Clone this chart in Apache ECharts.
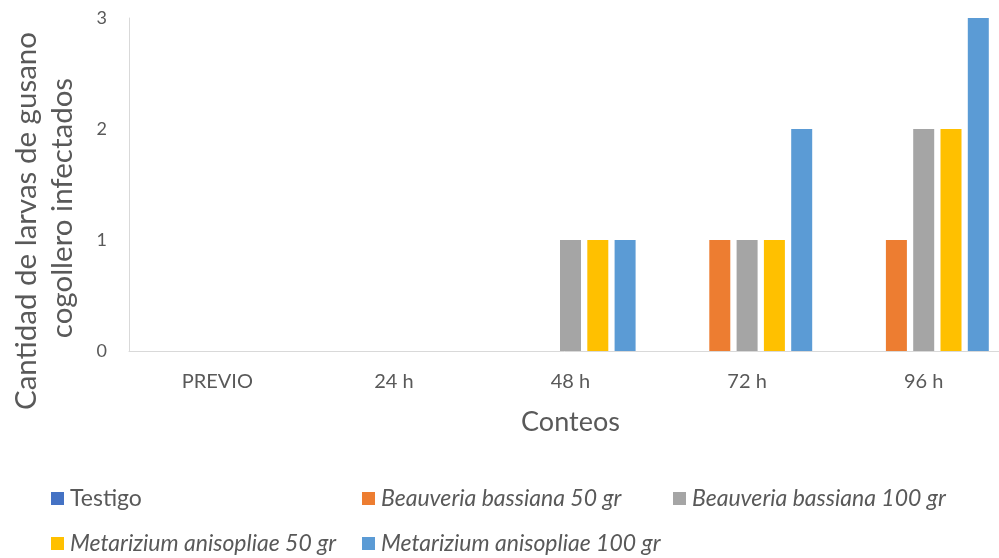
<!DOCTYPE html>
<html>
<head>
<meta charset="utf-8">
<script src="https://cdn.jsdelivr.net/npm/echarts@6/dist/echarts.min.js"></script>
<style>
  html, body { margin: 0; padding: 0; background: #ffffff; }
  #chart { width: 999px; height: 558px; }
</style>
</head>
<body>
<div id="chart"></div>
<script>
// Counting times
const categories = ['PREVIO', '24 h', '48 h', '72 h', '96 h'];

// Infected fall armyworm larvae per treatment
const testigo = [0, 0, 0, 0, 0];
const beauveria50 = [0, 0, 0, 1, 1];
const beauveria100 = [0, 0, 1, 1, 2];
const metarizium50 = [0, 0, 1, 1, 2];
const metarizium100 = [0, 0, 1, 2, 3];

const seriesNames = [
  'Testigo',
  'Beauveria bassiana 50 gr',
  'Beauveria bassiana 100 gr',
  'Metarizium anisopliae 50 gr',
  'Metarizium anisopliae 100 gr'
];
const seriesData = [testigo, beauveria50, beauveria100, metarizium50, metarizium100];
const colors = ['#4472C4', '#ED7D31', '#A5A5A5', '#FFC000', '#5B9BD5'];

const FONT = 'Lato';
const TEXT = '#595959';

const chart = echarts.init(document.getElementById('chart'), null, { renderer: 'canvas' });

function legendAt(name, left, top, italic) {
  return {
    data: [name],
    left: left,
    top: top,
    padding: 0,
    itemWidth: 13,
    itemHeight: 13,
    itemGap: 0,
    icon: 'rect',
    selectedMode: false,
    textStyle: { fontFamily: FONT, fontSize: 23, color: TEXT, fontStyle: italic ? 'italic' : 'normal', padding: [0, 0, 0, 1] }
  };
}

function titleLine(text, x, y) {
  return {
    type: 'text',
    x: x,
    y: y,
    rotation: Math.PI / 2,
    style: {
      text: text,
      fontFamily: FONT,
      fontSize: 29.5,
      fill: TEXT,
      align: 'center',
      verticalAlign: 'middle'
    }
  };
}

chart.setOption({
  animation: false,
  color: colors,
  grid: { left: 129, top: 18, width: 883, height: 333, containLabel: false, outerBoundsMode: 'none' },
  xAxis: {
    type: 'category',
    data: categories,
    axisLine: { lineStyle: { color: '#D9D9D9', width: 1 } },
    axisTick: { show: false },
    axisLabel: { fontFamily: FONT, fontSize: 20, color: TEXT, margin: 21 },
    name: 'Conteos',
    nameLocation: 'middle',
    nameGap: 58,
    nameTextStyle: { fontFamily: FONT, fontSize: 27, color: TEXT }
  },
  yAxis: {
    type: 'value',
    min: 0,
    max: 3,
    interval: 1,
    axisLine: { show: true, lineStyle: { color: '#D9D9D9', width: 1 } },
    axisTick: { show: false },
    splitLine: { show: false },
    axisLabel: { fontFamily: FONT, fontSize: 18, color: TEXT, margin: 22 }
  },
  legend: [
    legendAt(seriesNames[0], 51, 487, false),
    legendAt(seriesNames[1], 362, 487, true),
    legendAt(seriesNames[2], 673, 487, true),
    legendAt(seriesNames[3], 51, 532, true),
    legendAt(seriesNames[4], 362, 532, true)
  ],
  graphic: [
    titleLine('Cantidad de larvas de gusano', 26, 221),
    titleLine('cogollero infectados', 62, 208)
  ],
  series: seriesData.map((d, i) => ({
    name: seriesNames[i],
    type: 'bar',
    data: d,
    barWidth: 21,
    barGap: '30%',
    itemStyle: { color: colors[i] }
  }))
});
</script>
</body>
</html>
